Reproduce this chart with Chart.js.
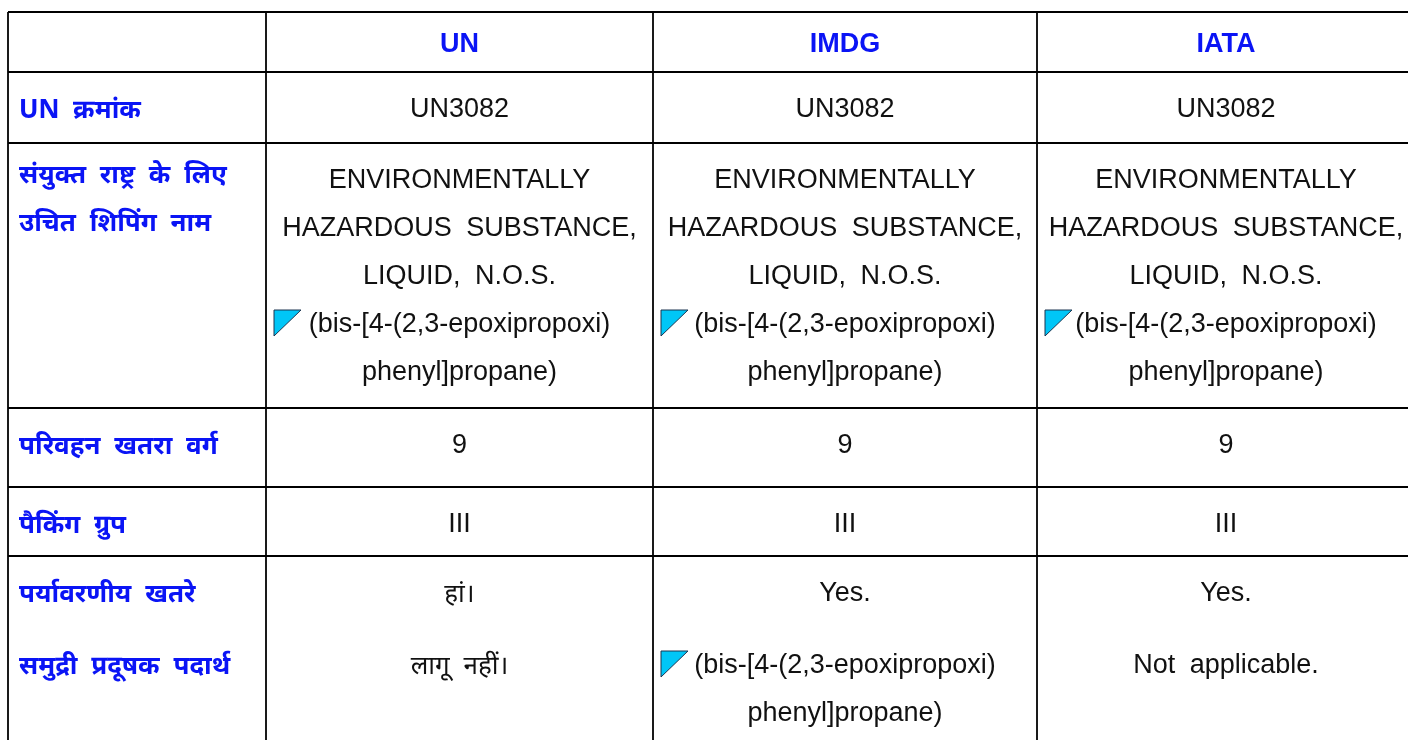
<!DOCTYPE html>
<html>
<head>
<meta charset="utf-8">
<title>UN / IMDG / IATA</title>
<script src="https://cdn.jsdelivr.net/npm/chart.js@4.4.1/dist/chart.umd.min.js"></script>
<style>
  html, body { margin: 0; padding: 0; background: #fff; }
  #wrap { width: 1408px; height: 740px; position: relative; }
</style>
</head>
<body>
<div id="wrap"><canvas id="transportTable"></canvas></div>
<script>
// table content
const columnHeads = ["UN", "IMDG", "IATA"];
const rowHeads = [
  [["UN क्रमांक"]],
  [["संयुक्त राष्ट्र के लिए", "उचित शिपिंग नाम"]],
  [["परिवहन खतरा वर्ग"]],
  [["पैकिंग ग्रुप"]],
  [["पर्यावरणीय खतरे"], ["समुद्री प्रदूषक पदार्थ"]]
];
const unNumbers = ["UN3082", "UN3082", "UN3082"];
const shippingNames = [
  ["ENVIRONMENTALLY", "HAZARDOUS SUBSTANCE,", "LIQUID, N.O.S.", "(bis-[4-(2,3-epoxipropoxi)", "phenyl]propane)"],
  ["ENVIRONMENTALLY", "HAZARDOUS SUBSTANCE,", "LIQUID, N.O.S.", "(bis-[4-(2,3-epoxipropoxi)", "phenyl]propane)"],
  ["ENVIRONMENTALLY", "HAZARDOUS SUBSTANCE,", "LIQUID, N.O.S.", "(bis-[4-(2,3-epoxipropoxi)", "phenyl]propane)"]
];
const hazardClasses = ["9", "9", "9"];
const packingGroups = ["III", "III", "III"];
const environmentalHazards = ["हां।", "Yes.", "Yes."];
const marinePollutants = [
  ["लागू नहीं।"],
  ["(bis-[4-(2,3-epoxipropoxi)", "phenyl]propane)"],
  ["Not applicable."]
];
// lines that carry the little comment marker
const markedLines = ["(bis-[4-(2,3-epoxipropoxi)"];

// table geometry (in table units, measured from the top-left border)
const colEdges = [0, 258, 645, 1029, 1407];
const rowEdges = [0, 60, 131, 396, 475, 544];
const tableW = 1400, tableH = 728;
const headOffsets = [41, 35, 41, 41, 41];

const blue = "#0a14f5";
const latin = '"Liberation Sans", Arial, sans-serif';
const deva = '"Noto Sans Devanagari", "Noto Sans", "Lohit Devanagari", "Liberation Sans", sans-serif';

const bodyRows = [
  unNumbers.map(v => [[v]]),
  shippingNames.map(lines => [lines]),
  hazardClasses.map(v => [[v]]),
  packingGroups.map(v => [[v]]),
  environmentalHazards.map((v, i) => [[v], marinePollutants[i]])
];

function isDeva(s) { return /[\u0900-\u097F]/.test(s); }

const tablePlugin = {
  id: "tableText",
  afterDraw(chart) {
    const ctx = chart.ctx;
    const xs = chart.scales.x, ys = chart.scales.y;
    const px = v => xs.getPixelForValue(v);
    const py = v => ys.getPixelForValue(v);
    ctx.save();
    ctx.textBaseline = "middle";
    if ("wordSpacing" in ctx) ctx.wordSpacing = "7px";

    // header row
    ctx.fillStyle = blue;
    ctx.textAlign = "center";
    ctx.font = "bold 27px " + latin;
    columnHeads.forEach((h, c) => {
      ctx.fillText(h, (px(colEdges[c + 1]) + px(colEdges[c + 2])) / 2, py(rowEdges[0]) + 33);
    });

    // row heads
    ctx.textAlign = "left";
    rowHeads.forEach((paras, r) => {
      let y = py(rowEdges[r + 1]) + headOffsets[r];
      paras.forEach(lines => {
        lines.forEach(t => {
          ctx.font = "bold 26px " + deva;
          ctx.fillText(t, px(colEdges[0]) + 11, y);
          y += 48;
        });
        y += 24;
      });
    });

    // body cells
    ctx.textAlign = "center";
    bodyRows.forEach((cells, r) => {
      cells.forEach((paras, c) => {
        const left = px(colEdges[c + 1]);
        const cx = (left + px(colEdges[c + 2])) / 2;
        let y = py(rowEdges[r + 1]) + 38;
        paras.forEach(lines => {
          lines.forEach(t => {
            ctx.fillStyle = "#111";
            ctx.font = isDeva(t) ? "26px " + deva : "27px " + latin;
            ctx.fillText(t, cx, isDeva(t) ? y + 3 : y);
            if (markedLines.includes(t)) {
              ctx.beginPath();
              ctx.moveTo(left + 8, y - 15);
              ctx.lineTo(left + 35, y - 15);
              ctx.lineTo(left + 8, y + 11);
              ctx.closePath();
              ctx.fillStyle = "#00c6f7";
              ctx.fill();
              ctx.lineWidth = 1;
              ctx.strokeStyle = "#1c3550";
              ctx.stroke();
            }
            y += 48;
          });
          y += 24;
        });
      });
    });
    ctx.restore();
  }
};

new Chart(document.getElementById("transportTable"), {
  type: "scatter",
  data: { datasets: [{ data: [], pointRadius: 0 }] },
  plugins: [tablePlugin],
  options: {
    responsive: true,
    maintainAspectRatio: false,
    animation: false,
    events: [],
    layout: { padding: { left: 8, top: 12, right: 0, bottom: 0 } },
    plugins: { legend: { display: false }, tooltip: { enabled: false } },
    scales: {
      x: {
        type: "linear",
        min: 0,
        max: tableW,
        afterBuildTicks: s => { s.ticks = colEdges.filter(v => v <= tableW).map(v => ({ value: v })); },
        ticks: { display: false },
        border: { display: false },
        grid: { color: "#1a1a1a", lineWidth: 2, drawTicks: false }
      },
      y: {
        type: "linear",
        reverse: true,
        min: 0,
        max: tableH,
        afterBuildTicks: s => { s.ticks = rowEdges.map(v => ({ value: v })); },
        ticks: { display: false },
        border: { display: false },
        grid: { color: "#000", lineWidth: 2, drawTicks: false }
      }
    }
  }
});
</script>
</body>
</html>
